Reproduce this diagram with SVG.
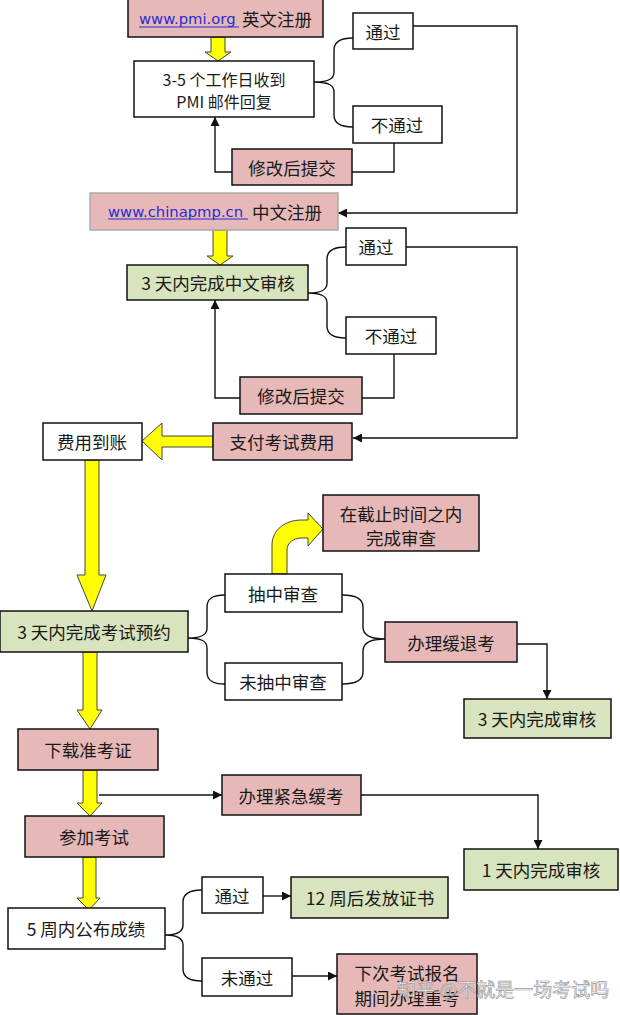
<svg xmlns="http://www.w3.org/2000/svg" width="620" height="1015" viewBox="0 0 620 1015">
<style>
.box{stroke:#111;stroke-width:1.5}
.w{fill:#fff}
.p{fill:#e6b9b8}
.g{fill:#d7e4bd}
.t{font-family:"Noto Sans CJK SC","Noto Sans",sans-serif;font-size:17.5px;fill:#1a1a1a;text-anchor:middle;dominant-baseline:central}
.s{font-size:16px}
.l{font-family:"DejaVu Sans",sans-serif;font-size:14.8px;fill:#2a2ad0;dominant-baseline:central}
.c{fill:none;stroke:#111;stroke-width:1.4}
.y{fill:#ffff00;stroke:#444;stroke-width:1}
</style>
<defs>
<marker id="ah" viewBox="0 0 10 10" refX="10" refY="5" markerWidth="9" markerHeight="9" markerUnits="userSpaceOnUse" orient="auto">
<path d="M0,0 L10,5 L0,10 Z" fill="#111"/>
</marker>
</defs>
<rect width="620" height="1015" fill="#fff"/>

<g id="connectors">
<path class="y" d="M211,37 L225,37 L225,52 L231,52 L218,61 L205,52 L211,52 Z"/>
<path class="y" d="M213,230 L227,230 L227,256 L233,256 L220,265 L207,256 L213,256 Z"/>
<path class="y" d="M213,436 L162,436 L162,423 L142,441 L162,460 L162,447 L213,447 Z"/>
<path class="y" d="M85,460 L99,460 L99,575 L106,575 L92,611 L77,575 L85,575 Z"/>
<path class="y" d="M83,652 L97,652 L97,710 L102,710 L90,729 L77,710 L83,710 Z"/>
<path class="y" d="M83,770 L97,770 L97,803 L102,803 L90,816 L77,803 L83,803 Z"/>
<path class="y" d="M83,857 L96,857 L96,898 L100,898 L89,910 L77,898 L83,898 Z"/>
<path class="y" d="M272,574 L272,545 C272,530 285,520 302,520 L308,520 L308,513 L323,529 L308,546 L308,538 L302,538 C293,538 287,543 287,550 L287,574 Z"/>
<path class="c" d="M353,38 C340,38 334,42 334,50 L334,72 C334,78 330,82 314,82 C330,82 334,86 334,92 L334,115 C334,123 340,127 353,127"/>
<path class="c" d="M346,247 C333,247 327,251 327,259 L327,283 C327,289 323,293 308,293 C323,293 327,297 327,303 L327,326 C327,334 333,338 346,338"/>
<path class="c" d="M225,595 C212,595 207,599 207,607 L207,628 C207,634 203,638 188,638 C203,638 207,642 207,648 L207,672 C207,680 212,684 225,684"/>
<path class="c" d="M342,595 C356,595 363,599 363,607 L363,627 C363,634 368,639 385,639 C368,639 363,644 363,651 L363,672 C363,680 356,684 342,684"/>
<path class="c" d="M202,890 C189,890 183,894 183,902 L183,925 C183,931 179,935 165,935 C179,935 183,939 183,945 L183,969 C183,977 189,981 202,981"/>
<path class="c" d="M413,26 L517,26 L517,213 L338,213" marker-end="url(#ah)"/>
<path class="c" d="M394,143 L394,172 L352,172"/>
<path class="c" d="M232,172 L215,172 L215,117" marker-end="url(#ah)"/>
<path class="c" d="M406,247 L517,247 L517,438 L353,438" marker-end="url(#ah)"/>
<path class="c" d="M394,354 L394,398 L362,398"/>
<path class="c" d="M240,398 L215,398 L215,300" marker-end="url(#ah)"/>
<path class="c" d="M517,644 L547,644 L547,699" marker-end="url(#ah)"/>
<path class="c" d="M99,795 L222,795" marker-end="url(#ah)"/>
<path class="c" d="M361,795 L538,795 L538,849" marker-end="url(#ah)"/>
<path class="c" d="M263,896 L291,896" marker-end="url(#ah)"/>
<path class="c" d="M292,976 L337,976" marker-end="url(#ah)"/>
</g>

<g id="n-pmi"><rect class="box p" x="128" y="-1" width="195" height="38"/>
<text class="l" x="139" y="18">www.pmi.org</text><line x1="139" y1="27" x2="239" y2="27" stroke="#2a2ad0" stroke-width="1.2"/>
<text class="t" x="277" y="18">英文注册</text></g>
<g id="n-mail"><rect class="box w" x="134" y="61" width="180" height="56"/>
<text class="t s" x="224" y="79">3-5 个工作日收到</text><text class="t s" x="224" y="101">PMI 邮件回复</text></g>
<g id="n-pass1"><rect class="box w" x="353" y="13" width="60" height="36"/><text class="t" x="383" y="31">通过</text></g>
<g id="n-fail1"><rect class="box w" x="353" y="106" width="89" height="37"/><text class="t" x="397" y="124">不通过</text></g>
<g id="n-resub1"><rect class="box p" x="232" y="149" width="120" height="36"/><text class="t" x="292" y="167">修改后提交</text></g>

<g id="n-cn"><rect class="box p" x="90" y="193" width="248" height="37" style="stroke:#aaa"/>
<text class="l" x="108" y="211">www.chinapmp.cn </text><line x1="108" y1="219" x2="248" y2="219" stroke="#2a2ad0" stroke-width="1.2"/>
<text class="t" x="287" y="211">中文注册</text></g>
<g id="n-cnreview"><rect class="box g" x="127" y="265" width="181" height="35"/><text class="t" x="218" y="282">3 天内完成中文审核</text></g>
<g id="n-pass2"><rect class="box w" x="346" y="228" width="60" height="37"/><text class="t" x="376" y="246">通过</text></g>
<g id="n-fail2"><rect class="box w" x="346" y="317" width="90" height="37"/><text class="t" x="391" y="335">不通过</text></g>
<g id="n-resub2"><rect class="box p" x="240" y="377" width="122" height="37"/><text class="t" x="301" y="395">修改后提交</text></g>
<g id="n-pay"><rect class="box p" x="213" y="423" width="139" height="37"/><text class="t" x="282" y="441">支付考试费用</text></g>
<g id="n-paid"><rect class="box w" x="43" y="423" width="99" height="37"/><text class="t" x="92" y="441">费用到账</text></g>

<g id="n-deadline"><rect class="box p" x="323" y="495" width="156" height="56"/><text class="t" x="401" y="513">在截止时间之内</text><text class="t" x="401" y="537">完成审查</text></g>
<g id="n-book"><rect class="box g" x="0" y="611" width="188" height="41"/><text class="t" x="94" y="631">3 天内完成考试预约</text></g>
<g id="n-audit"><rect class="box w" x="225" y="574" width="117" height="38"/><text class="t" x="283" y="593">抽中审查</text></g>
<g id="n-noaudit"><rect class="box w" x="225" y="663" width="117" height="37"/><text class="t" x="283" y="681">未抽中审查</text></g>
<g id="n-defer"><rect class="box p" x="385" y="622" width="132" height="40"/><text class="t" x="451" y="642">办理缓退考</text></g>
<g id="n-review3"><rect class="box g" x="464" y="699" width="147" height="39"/><text class="t" x="537" y="718">3 天内完成审核</text></g>
<g id="n-ticket"><rect class="box p" x="18" y="729" width="140" height="41"/><text class="t" x="88" y="749">下载准考证</text></g>
<g id="n-urgent"><rect class="box p" x="222" y="775" width="139" height="40"/><text class="t" x="291" y="795">办理紧急缓考</text></g>
<g id="n-exam"><rect class="box p" x="25" y="816" width="139" height="41"/><text class="t" x="94" y="836">参加考试</text></g>
<g id="n-review1"><rect class="box g" x="464" y="849" width="154" height="41"/><text class="t" x="541" y="869">1 天内完成审核</text></g>
<g id="n-score"><rect class="box w" x="8" y="908" width="157" height="41"/><text class="t" x="86" y="928">5 周内公布成绩</text></g>
<g id="n-pass3"><rect class="box w" x="202" y="877" width="61" height="36"/><text class="t" x="232" y="895">通过</text></g>
<g id="n-cert"><rect class="box g" x="291" y="877" width="157" height="41"/><text class="t" x="370" y="897">12 周后发放证书</text></g>
<g id="n-fail3"><rect class="box w" x="202" y="958" width="90" height="38"/><text class="t" x="247" y="977">未通过</text></g>
<g id="n-retake"><rect class="box p" x="337" y="954" width="140" height="60"/><text class="t" x="407" y="972">下次考试报名</text><text class="t" x="407" y="997">期间办理重考</text></g>

<text x="397" y="988" style="font-family:'Noto Sans CJK SC',sans-serif;font-size:19px;dominant-baseline:central" fill="#fff" fill-opacity="0.85" stroke="#9a9a9a" stroke-width="0.7">知乎 @不就是一场考试吗</text>
</svg>
